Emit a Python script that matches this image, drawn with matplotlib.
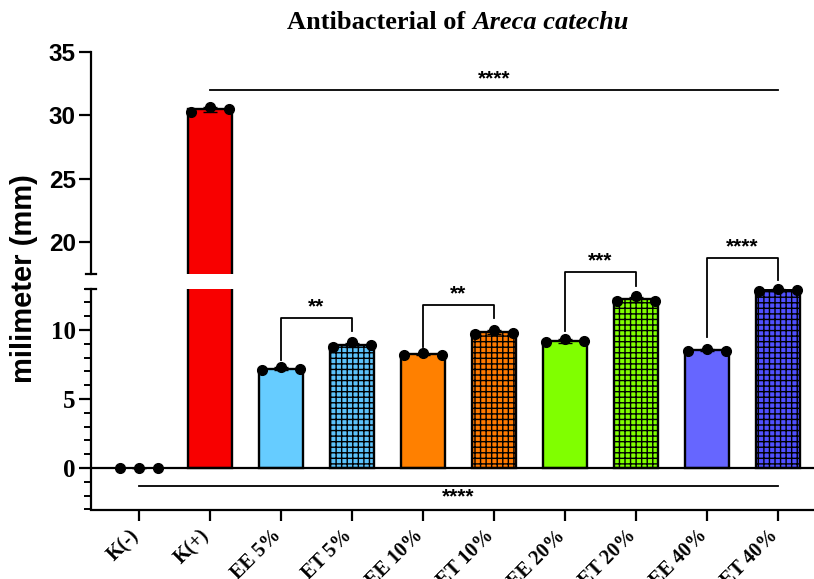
import numpy as np
import matplotlib.pyplot as plt
import matplotlib.transforms as mtransforms
from matplotlib.lines import Line2D
from matplotlib.ticker import MultipleLocator

groups = ["K(-)", "K(+)", "EE 5%", "ET 5%", "EE 10%", "ET 10%",
          "EE 20%", "ET 20%", "EE 40%", "ET 40%"]
replicates = [
    [0.0, 0.0, 0.0],
    [30.3, 30.7, 30.5],
    [7.1, 7.3, 7.2],
    [8.75, 9.1, 8.9],
    [8.2, 8.3, 8.2],
    [9.7, 10.0, 9.8],
    [9.1, 9.35, 9.2],
    [12.1, 12.45, 12.1],
    [8.5, 8.65, 8.5],
    [12.85, 13.0, 12.9],
]
colors = ["#ffffff", "#f80000", "#66ccff", "#5cc2fa", "#ff8000", "#ff7a00",
          "#80ff00", "#80ff00", "#6666ff", "#5050ff"]
hatched = [False, False, False, True, False, True, False, True, False, True]

# pairwise comparisons: (i, j, bracket top, left leg end, right leg end, label)
pairs = [
    (2, 3, 10.85, 7.8, 9.9, "**"),
    (4, 5, 11.8, 8.8, 10.85, "**"),
    (6, 7, 14.2, 9.9, 13.2, "***"),
    (8, 9, 15.24, 9.5, 13.6, "****"),
]

W, H = 814, 579
fig = plt.figure(figsize=(W / 100, H / 100), dpi=100)
plt.rcParams['hatch.linewidth'] = 1.0

def fy(p):
    return 1 - p / H

left = 91 / W
ax_top = fig.add_axes([left, fy(274), 1 - left, fy(52) - fy(274)])
ax_bot = fig.add_axes([left, fy(509.5), 1 - left, fy(288.6) - fy(509.5)])

x = np.arange(len(groups))
means = np.array([np.mean(r) for r in replicates])
sds = np.array([np.std(r, ddof=1) for r in replicates])

for ax in (ax_top, ax_bot):
    ax.patch.set_visible(False)
    for i in range(len(groups)):
        if i == 0:
            continue
        ax.bar(x[i], means[i], width=0.62, color=colors[i], edgecolor="black",
               linewidth=1.7, hatch="+++" if hatched[i] else None, zorder=2)
    ax.set_xlim(-0.676, 9.507)
    ax.spines["top"].set_visible(False)
    ax.spines["right"].set_visible(False)
    ax.spines["left"].set_linewidth(1.6)
    ax.spines["bottom"].set_linewidth(1.6)

# dots and error bars in the axis where each group sits
for i in range(len(groups)):
    ax = ax_top if means[i] > 17.5 else ax_bot
    xs = x[i] + np.array([-0.27, 0.0, 0.27])
    ax.errorbar(x[i], means[i], yerr=sds[i], color="black", capsize=5,
                elinewidth=1.0, capthick=1.0, zorder=3, clip_on=False)
    ax.plot(xs, replicates[i], "o", color="black", markersize=7, zorder=4,
            clip_on=False)

ax_top.set_ylim(17.5, 35)
ax_top.set_yticks([20, 25, 30, 35])
ax_top.spines["bottom"].set_visible(False)
ax_top.tick_params(axis="x", bottom=False, labelbottom=False)
ax_top.tick_params(axis="y", length=9, width=1.6, pad=2)
for t in ax_top.get_yticklabels():
    t.set_fontfamily("Liberation Sans")
    t.set_fontweight("bold")
    t.set_fontsize(17.5)

ax_bot.set_ylim(-3, 13)
ax_bot.set_yticks([0, 5, 10])
ax_bot.yaxis.set_minor_locator(MultipleLocator(1))
ax_bot.tick_params(axis="y", which="major", length=9, width=1.6, pad=2)
ax_bot.tick_params(axis="y", which="minor", length=5, width=1.4)
for t in ax_bot.get_yticklabels():
    t.set_fontfamily("Liberation Serif")
    t.set_fontweight("bold")
    t.set_fontsize(18)
ax_bot.axhline(0, color="black", linewidth=1.6, zorder=3)

ax_bot.set_xticks(x)
ax_bot.set_xticklabels(groups, rotation=45, ha="right", va="center",
                       rotation_mode="anchor", fontfamily="Liberation Serif",
                       fontweight="bold", fontsize=14.5)
ax_bot.tick_params(axis="x", length=8, width=1.6, pad=9)
shift = mtransforms.ScaledTranslation(-3 / 100, 0, fig.dpi_scale_trans)
for t in ax_bot.get_xticklabels():
    t.set_transform(t.get_transform() + shift)

# break caps on the y axis
cap = 5 / W / (1 - left)
for ax, yy in ((ax_top, 0.0), (ax_bot, 1.0)):
    ax.add_line(Line2D([-cap, cap], [yy, yy], transform=ax.transAxes,
                       color="black", linewidth=1.6, clip_on=False))

# significance brackets
for i, j, top, l_end, r_end, lab in pairs:
    ax_bot.plot([x[i], x[i], x[j], x[j]], [l_end, top, top, r_end],
                color="black", linewidth=1.3, clip_on=False, zorder=5)
    ax_bot.text((x[i] + x[j]) / 2, top + 0.12, lab, ha="center", va="bottom",
                fontfamily="Liberation Sans", fontweight="bold", fontsize=15,
                clip_on=False)

ax_top.plot([x[1], x[9]], [32.0, 32.0], color="black", linewidth=1.3,
            clip_on=False)
ax_top.text((x[1] + x[9]) / 2, 32.1, "****", ha="center", va="bottom",
            fontfamily="Liberation Sans", fontweight="bold", fontsize=15)

ax_bot.plot([x[0], x[9]], [-1.28, -1.28], color="black", linewidth=1.3,
            clip_on=False)
ax_bot.text((x[0] + x[9]) / 2, -1.4, "****", ha="center", va="top",
            fontfamily="Liberation Sans", fontweight="bold", fontsize=15)

fig.text(0.029, fy(279), "milimeter (mm)", rotation=90, ha="center",
         va="center", fontfamily="Liberation Sans", fontweight="bold",
         fontsize=21)

t1 = fig.text(287 / W, fy(29), "Antibacterial of ", ha="left", va="baseline",
              fontfamily="Liberation Serif", fontweight="bold", fontsize=19)
ax_top.annotate("Areca catechu", xy=(1, 0), xycoords=t1, ha="left",
                va="bottom", fontfamily="Liberation Serif",
                fontweight="bold", fontstyle="italic", fontsize=19,
                annotation_clip=False)

fig.savefig("out.png", dpi=100)
